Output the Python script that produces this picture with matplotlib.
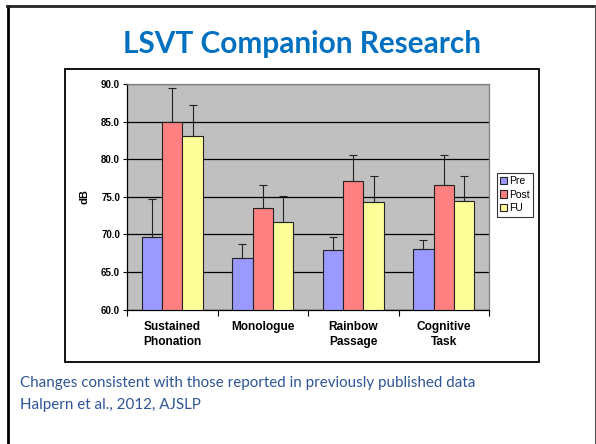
import matplotlib
matplotlib.use("Agg")
import matplotlib.pyplot as plt
import numpy as np
from matplotlib.patches import Rectangle
from matplotlib.lines import Line2D

# dados
categories = ["Sustained\nPhonation", "Monologue", "Rainbow\nPassage", "Cognitive\nTask"]
series = ["Pre", "Post", "FU"]
pre = [69.6, 66.8, 67.9, 68.1]
post = [85.0, 73.5, 77.1, 76.6]
fu = [83.1, 71.6, 74.3, 74.4]
pre_err = [5.1, 1.9, 1.8, 1.2]
post_err = [4.5, 3.1, 3.4, 3.9]
fu_err = [4.1, 3.5, 3.4, 3.3]
yticks = [60.0, 65.0, 70.0, 75.0, 80.0, 85.0, 90.0]

COLORS = ["#9999FF", "#FF8080", "#FFFF99"]

W, H = 596, 444
fig = plt.figure(figsize=(W / 100, H / 100), dpi=100)

def fx(px):
    return px / W

def fy(py):
    return 1 - py / H

# moldura do slide
fig.add_artist(Line2D([fx(8), fx(8)], [fy(6), fy(444)], color="black", lw=2.0))
fig.add_artist(Line2D([fx(7), fx(596)], [fy(6.5), fy(6.5)], color="#222222", lw=2.0))
fig.add_artist(Line2D([fx(595), fx(595)], [fy(6), fy(444)], color="#555555", lw=0.8))

# titulo
fig.text(fx(302), fy(44), "LSVT Companion Research", ha="center", va="center",
         fontsize=21.4, fontweight="bold", color="#0070C0", family="Lato")

# caixa do grafico
fig.add_artist(Rectangle((fx(65), fy(362)), fx(539) - fx(65), fy(69) - fy(362),
                         transform=fig.transFigure, fill=False, edgecolor="black", lw=1.3))

ax = fig.add_axes([fx(127), fy(309.5), fx(489) - fx(127), fy(84) - fy(309.5)])
ax.set_facecolor("#C0C0C0")

x = np.arange(len(categories))
width = 0.224
vals = [pre, post, fu]
errs = [pre_err, post_err, fu_err]
for i, (v, e) in enumerate(zip(vals, errs)):
    pos = x + (i - 1) * width
    ax.bar(pos, np.array(v) - 60, width, bottom=60, color=COLORS[i], edgecolor="#222222",
           linewidth=0.8, label=series[i], zorder=3)
    ax.errorbar(pos, v, yerr=[np.zeros(len(e)), e], fmt="none", ecolor="#222222",
                elinewidth=0.8, capsize=3.2, capthick=0.8, zorder=4)

ax.set_ylim(60, 90)
ax.set_xlim(-0.5, len(categories) - 0.5)
ax.set_yticks(yticks)
ax.set_yticklabels([f"{t:.1f}" for t in yticks], fontsize=7, fontweight="bold",
                   family="Liberation Sans")
ax.yaxis.grid(True, color="black", lw=0.9, zorder=1)
ax.set_axisbelow(True)
ax.tick_params(axis="y", length=3, width=0.8, pad=2)

ax.set_xticks(np.arange(-0.5, len(categories), 1.0))
ax.set_xticklabels([])
ax.set_xticks(x, minor=True)
ax.set_xticklabels(categories, minor=True, fontsize=8.6, fontweight="bold",
                   family="Liberation Sans", linespacing=1.4)
ax.tick_params(axis="x", which="major", length=4, width=0.8)
ax.tick_params(axis="x", which="minor", length=0, pad=8)

for s in ["top", "right"]:
    ax.spines[s].set_color("#808080")
    ax.spines[s].set_linewidth(0.9)
for s in ["left", "bottom"]:
    ax.spines[s].set_color("black")
    ax.spines[s].set_linewidth(0.9)

fig.text(fx(85), fy(197), "dB", rotation=90, ha="center", va="center",
         fontsize=8, fontweight="bold", family="Liberation Sans")

leg = ax.legend(loc="upper left", bbox_to_anchor=(fx(497), fy(173)),
                bbox_transform=fig.transFigure, frameon=True, fancybox=False,
                edgecolor="black", prop={"family": "Liberation Sans", "size": 7.5},
                handlelength=0.7, handleheight=0.7, handletextpad=0.2,
                borderpad=0.3, labelspacing=0.35, borderaxespad=0)
leg.get_frame().set_linewidth(0.8)

# texto de rodape
fig.text(fx(20), fy(383), "Changes consistent with those reported in previously published data",
         ha="left", va="center", fontsize=10.9, color="#2F5597", family="Lato")
fig.text(fx(20), fy(405), "Halpern et al., 2012, AJSLP",
         ha="left", va="center", fontsize=10.9, color="#2F5597", family="Lato")

plt.savefig("out.png", dpi=100)
